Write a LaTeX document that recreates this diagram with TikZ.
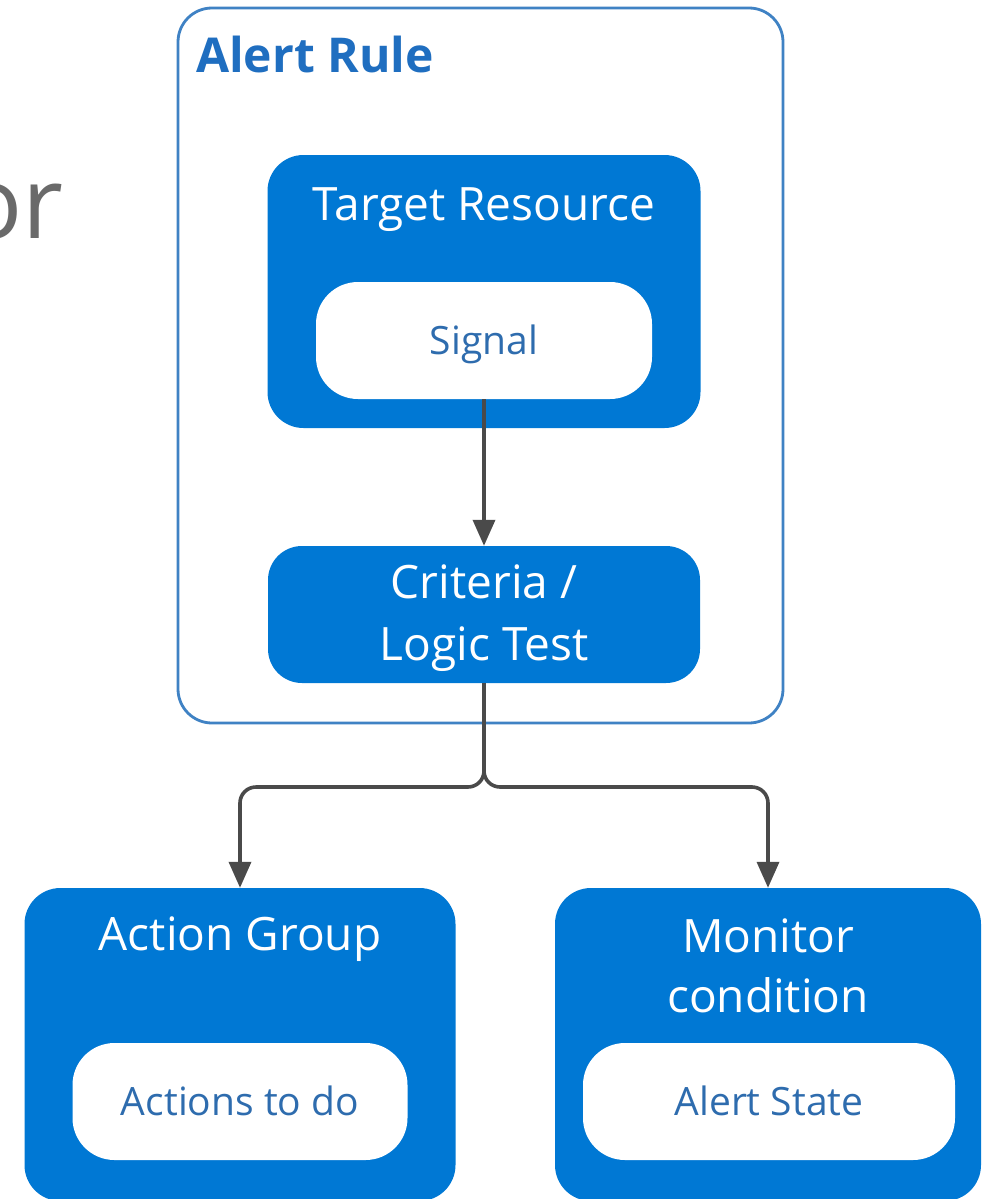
\documentclass[tikz,border=0pt]{standalone}
\usepackage{fontspec}
\setmainfont{Open Sans}
\usetikzlibrary{arrows.meta}
\definecolor{boxblue}{HTML}{0078D4}
\definecolor{rimblue}{HTML}{3F82C4}
\definecolor{headblue}{HTML}{1F6EC0}
\definecolor{innerblue}{HTML}{2E6CAE}
\definecolor{wiregray}{HTML}{4A4A4A}
\definecolor{ghostgray}{HTML}{6A6A6A}
\begin{document}
\begin{tikzpicture}[x=1pt,y=-1pt,
  outerbox/.style={draw=rimblue, line width=2.8pt, fill=white, rounded corners=34pt, inner sep=0pt},
  bluebox/.style={fill=boxblue, draw=none, rounded corners=36pt, inner sep=0pt},
  whitebox/.style={fill=white, draw=none, rounded corners=42pt, inner sep=0pt,
     text=innerblue, font=\fontsize{39}{47}\selectfont, text height=28pt, text depth=0pt},
  titletext/.style={text=white, font=\fontsize{46}{55}\selectfont, inner sep=0pt, anchor=base},
  conn/.style={draw=wiregray, line width=3.6pt, -{Triangle[length=26pt,width=22pt]}}
]
\useasboundingbox (0,0) rectangle (991,1199);
\clip (0,0) rectangle (991,1199);
\fill[white] (0,0) rectangle (991,1199);

% cropped heading fragment
\node[anchor=base east, inner sep=0pt, text=ghostgray, font=\fontsize{100}{110}\selectfont] (frag) at (64,238) {or};

% alert rule container
\node[outerbox, minimum width=605pt, minimum height=715pt] (rule) at (480.5,365.5) {};
\node[anchor=base west, inner sep=0pt, text=headblue, font=\bfseries\fontsize{48}{56}\selectfont] (rulet) at (196,72) {Alert Rule};

% target resource
\node[bluebox, minimum width=433pt, minimum height=273pt] (tr) at (484,291.5) {};
\node[titletext] (trt) at (484,220) {Target Resource};
\node[whitebox, minimum width=336pt, minimum height=117pt] (sig) at (484,340.5) {Signal};

% criteria
\node[bluebox, rounded corners=34pt, minimum width=432pt, minimum height=137pt] (crit) at (484,614.5) {};
\node[titletext] (crit1) at (484,598) {Criteria /};
\node[titletext] (crit2) at (484,660) {Logic Test};

% action group
\node[bluebox, minimum width=431pt, minimum height=313pt] (ag) at (240,1044.5) {};
\node[titletext] (agt) at (240,950) {Action Group};
\node[whitebox, minimum width=335pt, minimum height=117pt] (atd) at (240,1101.5) {Actions to do};

% monitor condition
\node[bluebox, minimum width=426pt, minimum height=313pt] (mc) at (768,1044.5) {};
\node[titletext] (mct1) at (768,952) {Monitor};
\node[titletext] (mct2) at (768,1012) {condition};
\node[whitebox, minimum width=372pt, minimum height=117pt] (ast) at (769,1101.5) {Alert State};

% connectors
\coordinate (split) at (484,787);
\draw[conn] (sig.south) -- (crit.north);
\draw[conn, rounded corners=16pt] (crit.south) -- (split) -| (ag.north);
\draw[conn, rounded corners=16pt] (crit.south) -- (split) -| (mc.north);
\end{tikzpicture}
\end{document}
